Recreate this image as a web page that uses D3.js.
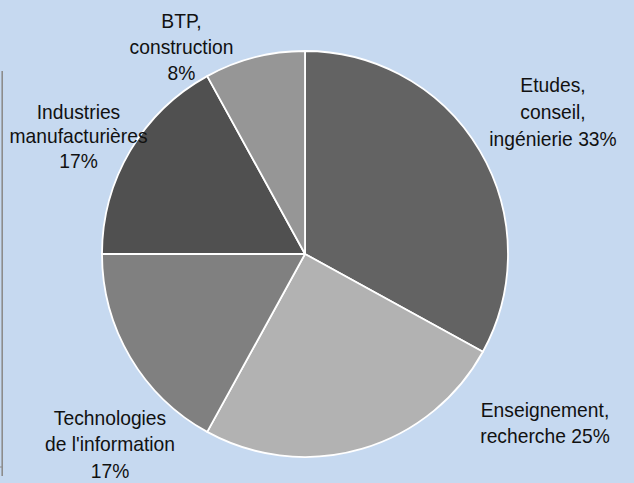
<!DOCTYPE html>
<html><head><meta charset="utf-8">
<script src="https://cdn.jsdelivr.net/npm/d3@7"></script>
<style>html,body{margin:0;padding:0;background:#c6d9f0;}svg{display:block;}</style>
</head><body>
<svg id="c" width="634" height="483"></svg>
<script>
const categories = ["Etudes, conseil, ingénierie", "Enseignement, recherche", "Technologies de l'information", "Industries manufacturières", "BTP, construction"];
const values = [33, 25, 17, 17, 8];
const colors = ["#636363", "#b2b2b2", "#808080", "#505050", "#969696"];
const labelLines = [
  ["Etudes,", "conseil,", "ingénierie 33%"],
  ["Enseignement,", "recherche 25%"],
  ["Technologies", "de l'information", "17%"],
  ["Industries", "manufacturières", "17%"],
  ["BTP,", "construction", "8%"]
];

const svg = d3.select("#c");
svg.append("rect").attr("width", 634).attr("height", 483).attr("fill", "#c6d9f0");
// left border line
svg.append("line").attr("x1", 2.2).attr("x2", 2.2).attr("y1", 71).attr("y2", 476)
  .attr("stroke", "#8c8c8c").attr("stroke-width", 1.6);
svg.append("line").attr("x1", 0).attr("x2", 2).attr("y1", 467).attr("y2", 467)
  .attr("stroke", "#8c8c8c").attr("stroke-width", 1.2);

const cx = 305, cy = 254, r = 203;
const pie = d3.pie().sort(null).value(d => d)(values);
const arc = d3.arc().innerRadius(0).outerRadius(r);
const g = svg.append("g").attr("transform", `translate(${cx},${cy})`);
g.selectAll("path").data(pie).join("path")
  .attr("d", arc)
  .attr("fill", (d, i) => colors[i])
  .attr("stroke", "#ffffff").attr("stroke-width", 1.8).attr("stroke-linejoin", "round");

// label anchors: center x and first baseline, line spacing
const labelPos = [
  {x: 553, y: 92, dy: 26.8},
  {x: 545, y: 417, dy: 26.5},
  {x: 110, y: 425, dy: 26.5},
  {x: 78.5, y: 119, dy: 24.5},
  {x: 181.5, y: 27.5, dy: 26.3}
];
const lab = svg.append("g").attr("font-family", "'Liberation Sans', Arial, sans-serif")
  .attr("font-size", "20.6px").attr("fill", "#111").attr("text-anchor", "middle");
labelLines.forEach((lines, i) => {
  const t = lab.append("text").attr("transform", `translate(${labelPos[i].x},${labelPos[i].y}) scale(0.935,1)`);
  lines.forEach((s, j) => t.append("tspan").attr("x", 0).attr("y", j * labelPos[i].dy).text(s));
});
</script>
</body></html>
